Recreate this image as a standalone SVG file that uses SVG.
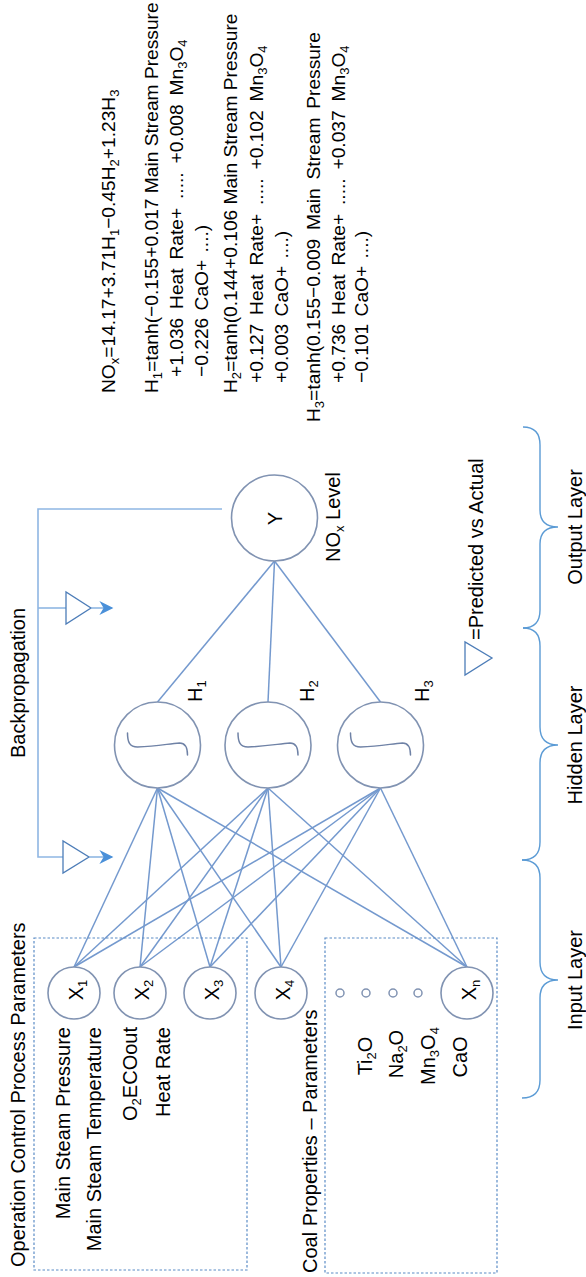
<svg xmlns="http://www.w3.org/2000/svg" width="586" height="1277" viewBox="0 0 586 1277">
<defs>
<style>
text{font-family:"Liberation Sans",Arial,sans-serif;fill:#000;font-size:20px}
.eq{font-size:19.2px}
.ws4{word-spacing:3.5px}
.ws2{word-spacing:2px}
.ws5{word-spacing:3.5px}
.node{fill:#fff;stroke:#8193b2;stroke-width:1.6}
.sig{fill:none;stroke:#6f82a6;stroke-width:1.5;stroke-linecap:round}
.edge{stroke:#7499ce;stroke-width:1.5;fill:none}
.bp{stroke:#8fb6e3;stroke-width:1.6;fill:none}
.tri{fill:#fff;stroke:#4d7db8;stroke-width:1.3}
.box{fill:none;stroke:#5b8cc6;stroke-width:1.2;stroke-dasharray:2.5 2}
.brace{fill:none;stroke:#5b9bd5;stroke-width:1.4}
.dot{fill:#fff;stroke:#8193b2;stroke-width:1.5}
</style>
<marker id="ah" viewBox="0 0 10 10" refX="9" refY="5" markerWidth="16" markerHeight="14" markerUnits="userSpaceOnUse" orient="auto">
<path d="M0,0 L10,5 L0,10 L3,5 z" fill="#4a90d9"/>
</marker>
</defs>

<g id="connectors">
<line class="edge" x1="274.5" y1="561" x2="157.5" y2="702"/>
<line class="edge" x1="274.5" y1="561" x2="268" y2="702"/>
<line class="edge" x1="274.5" y1="561" x2="380.5" y2="702"/>
<g id="h1-edges">
<line class="edge" x1="157.5" y1="788" x2="74" y2="967"/>
<line class="edge" x1="157.5" y1="788" x2="140" y2="967"/>
<line class="edge" x1="157.5" y1="788" x2="210" y2="967"/>
<line class="edge" x1="157.5" y1="788" x2="281" y2="967"/>
<line class="edge" x1="157.5" y1="788" x2="467" y2="967"/>
</g>
<g id="h2-edges">
<line class="edge" x1="268" y1="788" x2="74" y2="967"/>
<line class="edge" x1="268" y1="788" x2="140" y2="967"/>
<line class="edge" x1="268" y1="788" x2="210" y2="967"/>
<line class="edge" x1="268" y1="788" x2="281" y2="967"/>
<line class="edge" x1="268" y1="788" x2="467" y2="967"/>
</g>
<g id="h3-edges">
<line class="edge" x1="380.5" y1="788" x2="74" y2="967"/>
<line class="edge" x1="380.5" y1="788" x2="140" y2="967"/>
<line class="edge" x1="380.5" y1="788" x2="210" y2="967"/>
<line class="edge" x1="380.5" y1="788" x2="281" y2="967"/>
<line class="edge" x1="380.5" y1="788" x2="467" y2="967"/>
</g>
<g id="backprop">
<polyline class="bp" points="222,509 38,509 38,857 63,857"/>
<line class="bp" x1="38" y1="608" x2="66" y2="608"/>
<polygon class="tri" points="66,592 66,624 91,608"/>
<polygon class="tri" points="63,841 63,873 89,857"/>
<line class="bp" x1="91" y1="608" x2="112" y2="608" marker-end="url(#ah)"/>
<line class="bp" x1="89" y1="857" x2="112" y2="857" marker-end="url(#ah)"/>
<text x="25" y="758" transform="rotate(-90 25 758)">Backpropagation</text>
</g>
</g>

<g id="box-operation">
<rect class="box" x="34" y="938" width="213" height="332"/>
<text x="25" y="1267" transform="rotate(-90 25 1267)">Operation Control Process Parameters</text>
<text x="70" y="1027" text-anchor="end" transform="rotate(-90 70 1027)">Main Steam Pressure</text>
<text x="101" y="1027" text-anchor="end" transform="rotate(-90 101 1027)">Main Steam Temperature</text>
<text x="137" y="1027" text-anchor="end" transform="rotate(-90 137 1027)">O<tspan font-size="13" dy="4">2</tspan><tspan dy="-4">ECOout</tspan></text>
<text x="170" y="1027" text-anchor="end" transform="rotate(-90 170 1027)">Heat Rate</text>
</g>

<g id="box-coal">
<rect class="box" x="325" y="938" width="172" height="335"/>
<text x="317" y="1273" transform="rotate(-90 317 1273)">Coal Properties – Parameters</text>
<text x="372" y="1056" text-anchor="middle" transform="rotate(-90 372 1056)">Ti<tspan font-size="13" dy="4">2</tspan><tspan dy="-4">O</tspan></text>
<text x="403" y="1054" text-anchor="middle" transform="rotate(-90 403 1054)">Na<tspan font-size="13" dy="4">2</tspan><tspan dy="-4">O</tspan></text>
<text x="435" y="1056" text-anchor="middle" transform="rotate(-90 435 1056)">Mn<tspan font-size="13" dy="4">3</tspan><tspan dy="-4">O</tspan><tspan font-size="13" dy="4">4</tspan></text>
<text x="467" y="1057" text-anchor="middle" transform="rotate(-90 467 1057)">CaO</text>
<circle class="dot" cx="340" cy="993" r="4"/>
<circle class="dot" cx="366" cy="993" r="4"/>
<circle class="dot" cx="393" cy="993" r="4"/>
<circle class="dot" cx="418" cy="993" r="4"/>
</g>

<g id="x1"><circle class="node" cx="74" cy="993" r="26"/><text x="83" y="990" text-anchor="middle" transform="rotate(-90 83 990)">X<tspan font-size="13" dy="4">1</tspan></text></g>
<g id="x2"><circle class="node" cx="140" cy="993" r="26"/><text x="149" y="990" text-anchor="middle" transform="rotate(-90 149 990)">X<tspan font-size="13" dy="4">2</tspan></text></g>
<g id="x3"><circle class="node" cx="210" cy="993" r="26"/><text x="219" y="990" text-anchor="middle" transform="rotate(-90 219 990)">X<tspan font-size="13" dy="4">3</tspan></text></g>
<g id="x4"><circle class="node" cx="281" cy="993" r="26"/><text x="290" y="990" text-anchor="middle" transform="rotate(-90 290 990)">X<tspan font-size="13" dy="4">4</tspan></text></g>
<g id="xn"><circle class="node" cx="467" cy="993" r="26"/><text x="476" y="990" text-anchor="middle" transform="rotate(-90 476 990)">X<tspan font-size="13" dy="4">n</tspan></text></g>

<g id="h1"><circle class="node" cx="157.5" cy="745" r="43"/>
<path class="sig" transform="translate(157.5 745)" d="M-30,-12 C-30,-3 -28,2 -20,2 C0,1 10,-1 22,-2 C28,-2 30,3 30,10"/>
<text x="202" y="702" transform="rotate(-90 202 702)">H<tspan font-size="13" dy="4">1</tspan></text></g>
<g id="h2"><circle class="node" cx="268" cy="745" r="43"/>
<path class="sig" transform="translate(268 745)" d="M-30,-12 C-30,-3 -28,2 -20,2 C0,1 10,-1 22,-2 C28,-2 30,3 30,10"/>
<text x="314" y="702" transform="rotate(-90 314 702)">H<tspan font-size="13" dy="4">2</tspan></text></g>
<g id="h3"><circle class="node" cx="380.5" cy="745" r="43"/>
<path class="sig" transform="translate(380.5 745)" d="M-30,-12 C-30,-3 -28,2 -20,2 C0,1 10,-1 22,-2 C28,-2 30,3 30,10"/>
<text x="429" y="702" transform="rotate(-90 429 702)">H<tspan font-size="13" dy="4">3</tspan></text></g>

<g id="y"><circle class="node" cx="274.5" cy="518" r="43"/>
<text x="282" y="518.5" text-anchor="middle" transform="rotate(-90 282 518.5)">Y</text>
<text x="340" y="562" transform="rotate(-90 340 562)">NO<tspan font-size="13" dy="4">x</tspan><tspan dy="-4"> Level</tspan></text></g>

<g id="legend">
<polygon class="tri" points="465,642 465,675 492,658"/>
<text x="483" y="640" transform="rotate(-90 483 640)">=Predicted vs Actual</text>
</g>

<g id="layers">
<path class="brace" d="M523,427 Q540,427 540,445 L540,510 Q540,527 558,527 Q540,527 540,544 L540,610 Q540,628 523,628"/>
<path class="brace" d="M523,628 Q540,628 540,646 L540,727 Q540,745 558,745 Q540,745 540,763 L540,842 Q540,860 522,860"/>
<path class="brace" d="M522,860 Q540,860 540,878 L540,962 Q540,980 558,980 Q540,980 540,998 L540,1080 Q540,1098 522,1098"/>
<text x="582" y="527" text-anchor="middle" transform="rotate(-90 582 527)">Output Layer</text>
<text x="582" y="745" text-anchor="middle" transform="rotate(-90 582 745)">Hidden Layer</text>
<text x="582" y="980" text-anchor="middle" transform="rotate(-90 582 980)">Input Layer</text>
</g>

<g id="equations">
<text class="eq" x="115" y="393" transform="rotate(-90 115 393)">NO<tspan font-size="13" dy="4">x</tspan><tspan dy="-4">=14.17+3.71H</tspan><tspan font-size="13" dy="4">1</tspan><tspan dy="-4">−0.45H</tspan><tspan font-size="13" dy="4">2</tspan><tspan dy="-4">+1.23H</tspan><tspan font-size="13" dy="4">3</tspan></text>
<text class="eq" x="158" y="393" transform="rotate(-90 158 393)">H<tspan font-size="13" dy="4">1</tspan><tspan dy="-4">=tanh(−0.155+0.017 Main Stream Pressure</tspan></text>
<text class="eq ws4" x="183" y="377" transform="rotate(-90 183 377)">+1.036 Heat Rate+ ..... +0.008 Mn<tspan font-size="13" dy="4">3</tspan><tspan dy="-4">O</tspan><tspan font-size="13" dy="4">4</tspan></text>
<text class="eq ws2" x="208" y="377" transform="rotate(-90 208 377)">−0.226 CaO+ ....)</text>
<text class="eq" x="237" y="393" transform="rotate(-90 237 393)">H<tspan font-size="13" dy="4">2</tspan><tspan dy="-4">=tanh(0.144+0.106 Main Stream Pressure</tspan></text>
<text class="eq ws4" x="263" y="383" transform="rotate(-90 263 383)">+0.127 Heat Rate+ ..... +0.102 Mn<tspan font-size="13" dy="4">3</tspan><tspan dy="-4">O</tspan><tspan font-size="13" dy="4">4</tspan></text>
<text class="eq ws2" x="288" y="383" transform="rotate(-90 288 383)">+0.003 CaO+ ....)</text>
<text class="eq ws5" x="320" y="422" transform="rotate(-90 320 422)">H<tspan font-size="13" dy="4">3</tspan><tspan dy="-4">=tanh(0.155−0.009 Main Stream Pressure</tspan></text>
<text class="eq ws4" x="345" y="383" transform="rotate(-90 345 383)">+0.736 Heat Rate+ ..... +0.037 Mn<tspan font-size="13" dy="4">3</tspan><tspan dy="-4">O</tspan><tspan font-size="13" dy="4">4</tspan></text>
<text class="eq ws2" x="368" y="383" transform="rotate(-90 368 383)">−0.101 CaO+ ....)</text>
</g>
</svg>
